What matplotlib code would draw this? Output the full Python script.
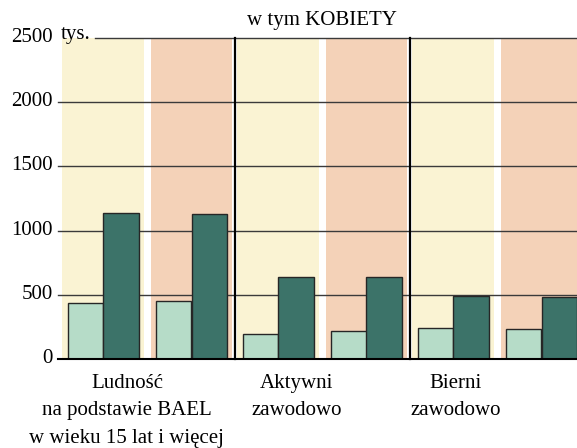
import matplotlib
matplotlib.use("Agg")
import matplotlib.pyplot as plt
import matplotlib.transforms as mtransforms

plt.rcParams['font.family'] = ['Liberation Serif', 'DejaVu Serif']
SERIF = ['Liberation Serif', 'DejaVu Serif']

# ---- data ----
categories = ["Ludność\nna podstawie BAEL\nw wieku 15 lat i więcej",
              "Aktywni\nzawodowo",
              "Bierni\nzawodowo"]
light_values = [[436, 453], [197, 216], [239, 231]]    # light green bars (yellow / pink panel)
dark_values = [[1137, 1129], [639, 639], [493, 485]]   # dark green bars (yellow / pink panel)
y_ticks = [0, 500, 1000, 1500, 2000, 2500]
y_tick_labels = ["0", "500", "1000", "1500", "2000", "2500"]
title = "w tym KOBIETY"
unit_label = "tys."

# ---- style ----
YELLOW = "#faf3d3"
PINK = "#f4d2b8"
LIGHT = "#b6dcc8"
DARK = "#3c7369"
EDGE = "#262626"

W, H = 577, 448
fig = plt.figure(figsize=(W / 100, H / 100), dpi=100)
ax_l, ax_r, ax_b, ax_t = 58, 577, 359, 38
ax = fig.add_axes([ax_l / W, (H - ax_b) / H, (ax_r - ax_l) / W, (ax_b - ax_t) / H])

ax.set_xlim(-4 / 175, 515 / 175)
ax.set_ylim(0, 2500)
for s in ax.spines.values():
    s.set_visible(False)

band_w = 0.468
sub_off = 0.505
first_c = 0.235
bar_w = 0.203

ymax = y_ticks[-1]
for i in range(len(categories)):
    for j in range(2):
        c = i + first_c + j * sub_off
        ax.bar(c, ymax, width=band_w, color=(YELLOW if j == 0 else PINK),
               zorder=0, linewidth=0)
        ax.bar(c - bar_w / 2, light_values[i][j], width=bar_w, color=LIGHT,
               edgecolor=EDGE, linewidth=1.0, zorder=3)
        ax.bar(c + bar_w / 2, dark_values[i][j], width=bar_w, color=DARK,
               edgecolor=EDGE, linewidth=1.0, zorder=3)
    if i < len(categories) - 1:
        ax.plot([i + 0.988, i + 0.988], [0, ymax], color="black", lw=1.6,
                zorder=4, clip_on=False)

blend_ay = mtransforms.blended_transform_factory(ax.transAxes, ax.transData)
# gridlines
for y in y_ticks[1:]:
    x0 = 0 if y != ymax else (95 - ax_l) / (ax_r - ax_l)
    ax.plot([x0, 1], [y, y], color="#3a3a3a", lw=1.0, zorder=1, clip_on=False,
            transform=blend_ay)
ax.plot([0, 1], [0, 0], color="black", lw=1.5, zorder=5, clip_on=False,
        transform=blend_ay)

up = mtransforms.ScaledTranslation(0, 3 / 100, fig.dpi_scale_trans)

ax.set_yticks(y_ticks)
ax.set_yticklabels(y_tick_labels, fontsize=15, fontfamily=SERIF)
ax.tick_params(axis='y', length=0, pad=4)
for lab in ax.get_yticklabels():
    lab.set_transform(lab.get_transform() + up)
ax.set_xticks([])

ax.text((61 - ax_l) / (ax_r - ax_l), ymax, unit_label, fontsize=15, va='center',
        ha='left', fontfamily=SERIF, transform=blend_ay + up)

fig.text(322 / W, 1 - 21 / H, title, fontsize=15, ha='center', va='center',
         fontfamily=SERIF)

label_x = [0.371, 1.34, 2.25]
for x, lab in zip(label_x, categories):
    ax.text(x, -0.047, lab, fontsize=15, ha='center', va='top', linespacing=1.6,
            fontfamily=SERIF,
            transform=mtransforms.blended_transform_factory(ax.transData, ax.transAxes))

fig.savefig("out.png", dpi=100)
